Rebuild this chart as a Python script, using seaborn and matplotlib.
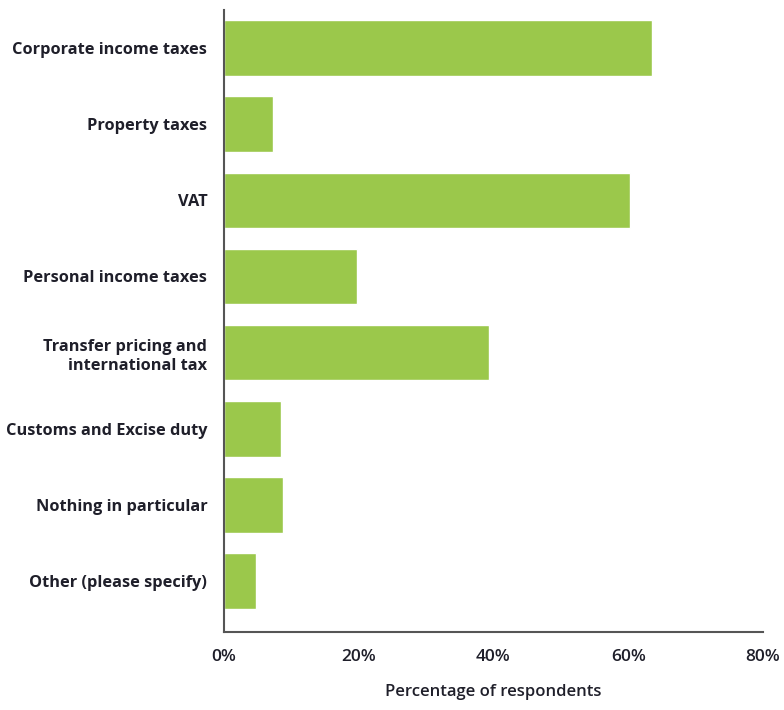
import matplotlib
matplotlib.use("Agg")
import matplotlib.pyplot as plt
import seaborn as sns
import pandas as pd
from matplotlib.ticker import FuncFormatter

categories = [
    "Corporate income taxes",
    "Property taxes",
    "VAT",
    "Personal income taxes",
    "Transfer pricing and\ninternational tax",
    "Customs and Excise duty",
    "Nothing in particular",
    "Other (please specify)",
]
values = [63.5, 7.2, 60.3, 19.7, 39.3, 8.4, 8.75, 4.8]
x_ticks = [0, 20, 40, 60, 80]

df = pd.DataFrame({"category": categories, "pct": values})

sns.set_theme(style="white")
plt.rcParams["font.family"] = ["Open Sans", "DejaVu Sans"]

fig = plt.figure(figsize=(7.84, 7.10), dpi=100)
ax = fig.add_axes([224 / 784, 78 / 710, (763 - 224) / 784, (632 - 10) / 710])

sns.barplot(data=df, x="pct", y="category", color="#9BC84B", saturation=1,
            width=0.73, ax=ax, orient="h")

ax.set_xlim(0, 80)
ax.set_ylim(7.67, -0.5)
ax.set_xticks(x_ticks)
ax.xaxis.set_major_formatter(FuncFormatter(lambda v, p: f"{v:.0f}%"))

text_color = "#1f1f2a"
ax.tick_params(axis="both", length=0, colors=text_color)
ax.tick_params(axis="x", pad=12, labelsize=12.5)
ax.tick_params(axis="y", pad=12, labelsize=11.8)
for lbl in ax.get_xticklabels():
    lbl.set_fontweight("semibold")
    lbl.set_color(text_color)
for lbl in ax.get_yticklabels():
    lbl.set_fontweight("bold")
    lbl.set_color(text_color)
    lbl.set_horizontalalignment("right")
    lbl.set_multialignment("right")
    lbl.set_linespacing(1.3)

ax.set_ylabel("")
ax.set_xlabel("Percentage of respondents", fontsize=12, fontweight="semibold",
              color=text_color, labelpad=14)

for side in ["top", "right"]:
    ax.spines[side].set_visible(False)
for side in ["left", "bottom"]:
    ax.spines[side].set_color("#555555")
    ax.spines[side].set_linewidth(1.5)

fig.savefig("out.png", dpi=100, facecolor="white")
